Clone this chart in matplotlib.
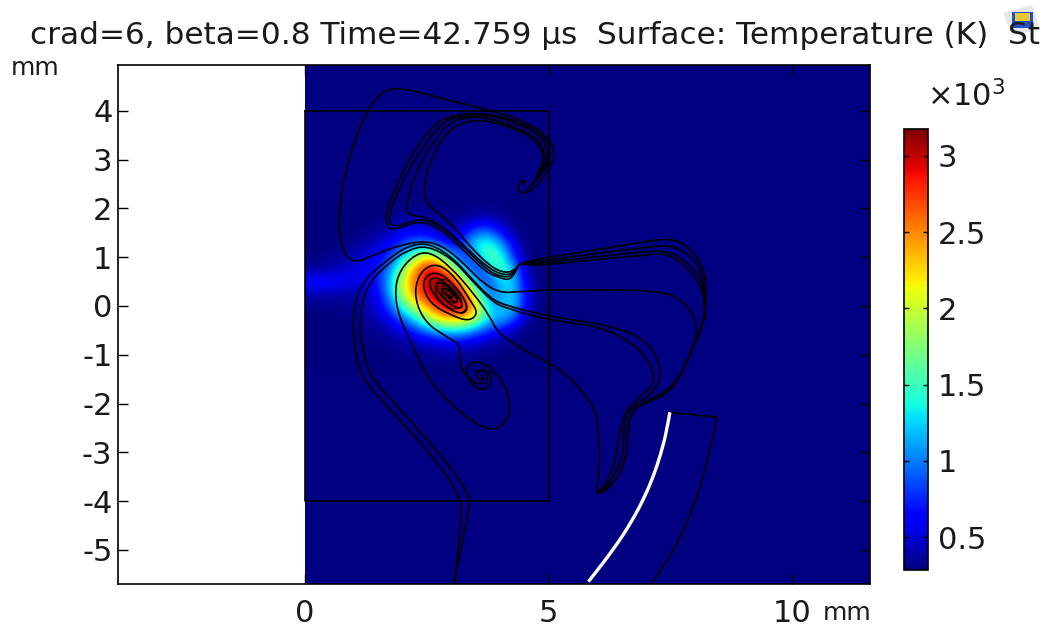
import matplotlib
matplotlib.use("Agg")
import matplotlib.pyplot as plt
import numpy as np
from matplotlib.patches import PathPatch, Polygon, Rectangle
from matplotlib.path import Path
from matplotlib.transforms import Affine2D

# temperature (K), columns x=0..5 mm, rows y=2..-1.25 mm, step 0.25
grid_x = [0, 0.25, 0.5, 0.75, 1, 1.25, 1.5, 1.75, 2, 2.25, 2.5, 2.75, 3, 3.25, 3.5, 3.75, 4, 4.25, 4.5, 4.75, 5]
grid_y = [2, 1.75, 1.5, 1.25, 1, 0.75, 0.5, 0.25, 0, -0.25, -0.5, -0.75, -1, -1.25]
temp = [
    [284, 284, 284, 284, 284, 284, 284, 290, 300, 300, 295, 290, 290, 295, 300, 300, 295, 284, 284, 284, 284],
    [284, 284, 284, 284, 284, 284, 300, 340, 400, 430, 400, 340, 320, 360, 460, 500, 400, 300, 284, 284, 284],
    [284, 284, 284, 284, 290, 310, 350, 450, 600, 650, 600, 450, 350, 620, 950, 1000, 700, 370, 290, 284, 284],
    [284, 284, 290, 300, 330, 400, 500, 650, 800, 1000, 1050, 850, 600, 850, 1350, 1500, 1200, 650, 310, 284, 284],
    [290, 300, 310, 350, 430, 520, 600, 800, 1250, 1750, 2250, 1950, 1200, 650, 1050, 1600, 1500, 850, 340, 284, 284],
    [330, 350, 400, 450, 520, 600, 700, 1050, 1750, 2450, 2950, 2850, 2200, 1150, 650, 1100, 1600, 1250, 480, 284, 284],
    [620, 720, 700, 620, 570, 580, 700, 1200, 2000, 2600, 3000, 3150, 3000, 2200, 1100, 700, 1300, 1300, 620, 300, 284],
    [420, 420, 400, 370, 380, 420, 620, 1150, 1950, 2500, 2950, 3150, 3177, 2800, 1850, 950, 1050, 1300, 700, 310, 284],
    [300, 300, 310, 320, 340, 400, 550, 900, 1500, 2000, 2450, 2900, 3100, 2950, 2350, 1300, 1100, 1300, 700, 310, 284],
    [284, 284, 290, 300, 310, 350, 430, 640, 950, 1350, 1800, 2250, 2450, 2400, 2000, 1300, 1200, 1000, 450, 284, 284],
    [284, 284, 284, 284, 290, 310, 340, 420, 570, 760, 1000, 1200, 1300, 1250, 1000, 800, 650, 450, 300, 284, 284],
    [284, 284, 284, 284, 284, 290, 300, 320, 370, 430, 500, 560, 600, 570, 500, 410, 340, 300, 284, 284, 284],
    [284, 284, 284, 284, 284, 284, 284, 290, 300, 310, 330, 350, 350, 340, 320, 300, 290, 284, 284, 284, 284],
    [284, 284, 284, 284, 284, 284, 284, 284, 284, 284, 284, 290, 290, 290, 284, 284, 284, 284, 284, 284, 284],
]

# streamlines, mm
line_outer = [(4.49, 2.48), (4.55, 2.58), (4.42, 2.55), (4.35, 2.41), (4.45, 2.30), (4.69, 2.38), (4.96, 2.72),
              (5.17, 3.13), (4.97, 3.47), (4.62, 3.74), (3.94, 3.98), (2.91, 4.22), (1.95, 4.49), (1.54, 4.39),
              (1.20, 3.88), (0.86, 2.92), (0.68, 1.90), (0.75, 1.15), (0.99, 0.87), (1.40, 1.04), (1.95, 1.25),
              (2.50, 1.34), (2.91, 1.18), (3.32, 0.81), (3.66, 0.46), (4.01, 0.27), (4.35, 0.29), (5.03, 0.33),
              (6.06, 0.33), (7.36, 0.31), (7.84, 0.05), (8.08, -0.42), (7.98, -0.83), (7.70, -1.45), (7.36, -1.80),
              (6.88, -2.00), (6.64, -2.30), (6.62, -3.02), (6.44, -3.50), (6.13, -3.80), (5.99, -3.84)]
hairpin1 = [(4.55, 2.38), (4.90, 2.72), (5.07, 3.13), (4.90, 3.50), (4.49, 3.74), (3.94, 3.91), (3.53, 3.95),
            (3.05, 3.91), (2.71, 3.78), (2.29, 3.27), (1.99, 2.72), (1.75, 2.17), (1.64, 1.83), (1.71, 1.57),
            (1.92, 1.59), (2.36, 1.75), (2.77, 1.59), (3.25, 1.15), (3.70, 0.70), (4.01, 0.57), (4.21, 0.53),
            (4.35, 0.74), (4.41, 0.91), (6.06, 1.16), (6.95, 1.32), (7.57, 1.39), (7.91, 1.18), (8.18, 0.81),
            (8.24, 0.40), (8.22, -0.29), (7.91, -0.97), (7.70, -1.45), (7.43, -1.82), (6.88, -2.03), (6.75, -2.13),
            (6.61, -2.40), (6.62, -3.02), (6.44, -3.50), (6.16, -3.80), (5.99, -3.84)]
hairpin2 = [(4.62, 2.45), (4.93, 2.79), (5.00, 3.13), (4.83, 3.50), (4.42, 3.71), (3.94, 3.88), (3.53, 3.91),
            (3.05, 3.87), (2.77, 3.71), (2.40, 3.23), (2.09, 2.72), (1.85, 2.21), (1.71, 1.80), (1.78, 1.63),
            (1.95, 1.66), (2.40, 1.80), (2.81, 1.63), (3.29, 1.18), (3.73, 0.74), (4.04, 0.59), (4.25, 0.61),
            (4.38, 0.84), (4.48, 0.87), (6.06, 1.09), (6.95, 1.20), (7.53, 1.25), (7.91, 1.04), (8.15, 0.70),
            (8.20, 0.33), (8.20, -0.36), (7.91, -0.97), (7.70, -1.45)]
hairpin3 = [(4.66, 2.48), (4.90, 2.82), (4.93, 3.13), (4.76, 3.44), (4.35, 3.66), (3.80, 3.85), (3.39, 3.88),
            (2.98, 3.78), (2.64, 3.37), (2.33, 2.86), (2.16, 2.38), (2.07, 1.97), (2.16, 1.85), (2.47, 1.83),
            (2.88, 1.59), (3.32, 1.18), (3.77, 0.77), (4.08, 0.63), (4.28, 0.67), (4.42, 0.89), (4.55, 0.84),
            (6.06, 1.02), (6.95, 1.11), (7.46, 1.13), (7.84, 0.91), (8.11, 0.60), (8.18, 0.33), (8.22, -0.29)]
hairpin4 = [(4.73, 2.58), (4.86, 2.89), (4.90, 3.13), (4.69, 3.44), (4.28, 3.64), (3.73, 3.81), (3.25, 3.78),
            (2.88, 3.54), (2.57, 2.99), (2.45, 2.51), (2.44, 2.21), (2.60, 2.00), (2.94, 1.76), (3.36, 1.25),
            (3.80, 0.81), (4.11, 0.67), (4.32, 0.74), (4.45, 0.91), (4.59, 0.81), (6.06, 0.96), (6.95, 1.04),
            (7.43, 1.08), (7.80, 0.84), (8.08, 0.50), (8.18, 0.22)]
line_vortex = [(3.60, -1.41), (3.68, -1.45), (3.63, -1.53), (3.51, -1.46), (3.54, -1.33), (3.70, -1.31), (3.77, -1.48),
               (3.63, -1.62), (3.43, -1.55), (3.20, -1.30), (3.17, -1.04), (3.19, -0.80), (2.84, -0.59), (2.50, -0.36),
               (2.29, 0.02), (2.26, 0.43), (2.43, 0.77), (2.74, 0.87), (3.08, 0.60), (3.39, 0.12), (3.56, -0.15),
               (3.36, -0.32), (2.98, -0.18), (2.57, 0.05), (2.40, 0.43), (2.53, 0.67), (2.81, 0.67), (3.12, 0.36),
               (3.36, -0.01), (3.25, -0.18), (2.91, -0.05), (2.64, 0.23), (2.53, 0.50), (2.67, 0.60), (2.91, 0.46),
               (3.18, 0.16), (3.25, -0.05), (3.05, -0.03), (2.77, 0.23), (2.67, 0.43), (2.77, 0.50), (2.98, 0.36),
               (3.15, 0.12), (3.08, 0.05), (2.88, 0.23), (2.81, 0.36), (2.91, 0.36), (3.05, 0.23), (3.01, 0.16), (2.94, 0.23)]
line_core = [(2.98, 0.23), (3.03, 0.26), (3.05, 0.18), (2.96, 0.14), (2.90, 0.23), (2.93, 0.33), (3.03, 0.33),
             (3.12, 0.22), (3.13, 0.08), (3.02, 0.05), (2.88, 0.13), (2.80, 0.28), (2.82, 0.42), (2.93, 0.46),
             (3.06, 0.36), (3.20, 0.18), (3.23, 0.00), (3.10, -0.08), (2.92, -0.02), (2.74, 0.14), (2.66, 0.32),
             (2.72, 0.52), (2.88, 0.56), (3.08, 0.42), (3.26, 0.18), (3.33, -0.05), (3.20, -0.15)]
line_loop = [(3.49, -1.35), (3.70, -1.28), (3.86, -1.45), (3.73, -1.74), (3.42, -1.64), (3.29, -1.31), (3.46, -1.11),
             (3.80, -1.24), (4.14, -1.65), (4.22, -2.13), (4.14, -2.34), (3.90, -2.57), (3.46, -2.40),
             (3.05, -2.06), (2.53, -1.52), (2.29, -0.97), (1.92, -0.22), (1.84, 0.33), (1.95, 0.74), (2.26, 1.06),
             (2.57, 1.11), (2.98, 0.81), (3.46, 0.26), (3.80, -0.22), (3.94, -0.53), (4.42, -0.87), (5.03, -1.17),
             (5.51, -1.52), (5.99, -2.13), (6.03, -2.68), (6.05, -3.22), (5.99, -3.80)]
line_low1 = [(3.08, -5.68), (3.22, -4.25), (3.19, -3.91), (2.70, -3.16), (1.88, -2.27), (1.20, -1.52), (1.06, -1.11),
             (0.96, -0.29), (1.13, 0.46), (1.68, 0.94), (2.09, 1.22), (2.50, 1.30), (2.98, 1.04), (3.39, 0.60),
             (3.80, 0.16), (4.14, 0.00), (5.03, -0.22), (6.40, -0.42), (7.09, -0.77), (7.33, -1.31), (7.22, -1.72),
             (6.74, -2.06), (6.58, -2.25), (6.53, -2.68), (6.54, -3.02), (6.37, -3.43), (6.13, -3.77), (5.99, -3.84)]
line_low2 = [(3.05, -5.68), (3.36, -4.25), (3.39, -3.91), (3.05, -3.36), (2.09, -2.27), (1.40, -1.52), (1.27, -1.24),
             (1.10, -0.49), (1.23, 0.40), (1.75, 0.91), (2.12, 1.15), (2.50, 1.24), (3.01, 0.98), (3.42, 0.53),
             (3.84, 0.09), (4.14, -0.05), (5.03, -0.30), (6.06, -0.42), (6.74, -0.77), (7.09, -1.17), (7.19, -1.59),
             (6.95, -1.79), (6.64, -2.10), (6.54, -2.27), (6.44, -2.68), (6.37, -3.16), (6.20, -3.63), (5.99, -3.84)]
stream_lines = [line_outer, hairpin1, hairpin2, hairpin3, hairpin4, line_vortex, line_loop, line_low1, line_low2]

# geometry, mm
box_x = [0, 5, 5, 0]
box_y = [4, 4, -4, -4]
arc_white = [(7.49, -2.18), (7.43, -2.55), (7.30, -3.05), (7.16, -3.47), (6.98, -3.90), (6.72, -4.40), (6.35, -4.97), (5.82, -5.65)]
arc_black = [(8.46, -2.28), (8.32, -2.95), (8.12, -3.70), (7.84, -4.45), (7.50, -5.14), (7.12, -5.68)]
arc_end_x = [7.49, 8.46]
arc_end_y = [-2.18, -2.28]

x_ticks = [0, 5, 10]
y_ticks = [-5, -4, -3, -2, -1, 0, 1, 2, 3, 4]
cbar_ticks = [500, 1000, 1500, 2000, 2500, 3000]
cbar_labels = ["0.5", "1", "1.5", "2", "2.5", "3"]
title = "crad=6, beta=0.8 Time=42.759 µs  Surface: Temperature (K)  St"


def smooth(pts):
    # quadratic curve through the midpoints of the read points
    pts = np.array(pts, dtype=float)
    verts = [pts[0]]
    codes = [Path.MOVETO]
    for i in range(1, len(pts) - 1):
        verts += [pts[i], (pts[i] + pts[i + 1]) / 2]
        codes += [Path.CURVE3, Path.CURVE3]
    verts.append(pts[-1])
    codes.append(Path.LINETO)
    return Path(verts, codes)


plt.rcParams["axes.unicode_minus"] = False
fig = plt.figure(figsize=(10.5, 6.27), dpi=100)
px = Affine2D().scale(1 / 1050, -1 / 627).translate(0, 1) + fig.transFigure
ink = "#1a1a1a"

ax = fig.add_axes([118 / 1050, 1 - 584 / 627, 752 / 1050, 519 / 627])
cmap = plt.get_cmap("jet")
x_lim = (-3.84, 11.60)
y_lim = (-5.70, 4.94)
ax.axvspan(0, x_lim[1], color=cmap(0), lw=0, zorder=0)

step = 0.25
im = ax.imshow(np.array(temp, dtype=float), cmap=cmap, vmin=284, vmax=3177, aspect="auto",
               interpolation="bicubic", interpolation_stage="data", zorder=1,
               extent=[grid_x[0] - step / 2, grid_x[-1] + step / 2, grid_y[-1] - step / 2, grid_y[0] + step / 2])
im.set_clip_path(Rectangle((0, -2), 6, 5, transform=ax.transData))

for pts in stream_lines:
    ax.add_patch(PathPatch(smooth(pts), fill=False, ec="black", lw=1.2, zorder=3))
ax.add_patch(PathPatch(smooth(line_core), fill=False, ec="black", lw=0.9, alpha=0.75, zorder=3))
ax.plot(box_x + box_x[:1], box_y + box_y[:1], color="black", lw=1.2, zorder=3)
ax.plot(arc_end_x, arc_end_y, color="black", lw=1.2, zorder=3)
ax.add_patch(PathPatch(smooth(arc_black), fill=False, ec="black", lw=1.2, zorder=3))
ax.add_patch(PathPatch(smooth(arc_white), fill=False, ec="white", lw=2.4, zorder=4, capstyle="butt"))

ax.set_xlim(x_lim)
ax.set_ylim(y_lim)
ax.set_xticks(x_ticks)
ax.set_yticks(y_ticks)
ax.tick_params(direction="in", length=7, width=1, labelsize=22, labelcolor=ink, top=True, right=True)
ax.tick_params(axis="x", pad=10.5)
ax.tick_params(axis="y", pad=4)
for s in ax.spines.values():
    s.set_linewidth(1.2)

fig.text(35, 68, "mm", transform=px, fontsize=18, ha="center", va="center", color=ink)
fig.text(847, 613, "mm", transform=px, fontsize=18, ha="center", va="center", color=ink)
fig.text(30, 36, title, transform=px, fontsize=22.4, ha="left", va="center", color=ink)
fig.text(966, 96, r"$\times$10$^3$", transform=px, fontsize=22, ha="center", va="center", color=ink)

cax = fig.add_axes([904 / 1050, 1 - 570 / 627, 24 / 1050, 441 / 627])
cb = fig.colorbar(im, cax=cax)
cb.set_ticks(cbar_ticks)
cb.set_ticklabels(cbar_labels)
cax.minorticks_off()
cax.tick_params(direction="in", length=3.5, width=1, left=True, right=True, labelsize=22, labelcolor=ink, pad=7)
cb.outline.set_linewidth(1.2)

# little window icon behind the clipped title
fig.add_artist(Polygon([(1003, 13), (1032, 5), (1040, 30), (1012, 35)], closed=True, transform=px,
                       fc="#e6e6ea", ec="none", zorder=-1))
fig.add_artist(Rectangle((1012, 12), 21, 16, transform=px, fc="#2450c8", ec="none", zorder=-1))
fig.add_artist(Rectangle((1015, 13), 15, 8, transform=px, fc="#e8c838", ec="none", zorder=-1))

fig.savefig("out.png", dpi=100)
